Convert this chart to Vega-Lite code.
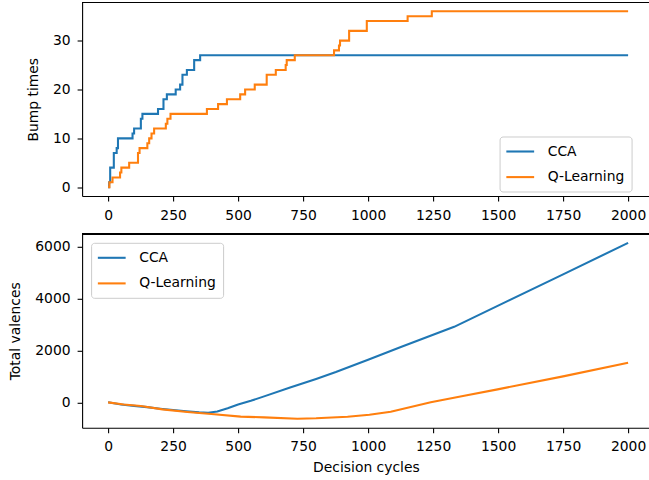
{
  "$schema": "https://vega.github.io/schema/vega-lite/v6.json",
  "background": "white",
  "padding": {"left": 8.1, "top": 1.5, "right": 0, "bottom": 0},
  "spacing": 37.3,
  "bounds": "flush",
  "datasets": {
    "bumps": [
      {"cycle": 0, "value": 0, "agent": "CCA"},
      {"cycle": 4, "value": 1, "agent": "CCA"},
      {"cycle": 8, "value": 4, "agent": "CCA"},
      {"cycle": 22, "value": 7, "agent": "CCA"},
      {"cycle": 33, "value": 8, "agent": "CCA"},
      {"cycle": 38, "value": 10, "agent": "CCA"},
      {"cycle": 94, "value": 11, "agent": "CCA"},
      {"cycle": 100, "value": 12, "agent": "CCA"},
      {"cycle": 126, "value": 14, "agent": "CCA"},
      {"cycle": 132, "value": 15, "agent": "CCA"},
      {"cycle": 192, "value": 16, "agent": "CCA"},
      {"cycle": 213, "value": 18, "agent": "CCA"},
      {"cycle": 226, "value": 19, "agent": "CCA"},
      {"cycle": 260, "value": 20, "agent": "CCA"},
      {"cycle": 277, "value": 21, "agent": "CCA"},
      {"cycle": 286, "value": 23, "agent": "CCA"},
      {"cycle": 303, "value": 24, "agent": "CCA"},
      {"cycle": 331, "value": 26, "agent": "CCA"},
      {"cycle": 354, "value": 27, "agent": "CCA"},
      {"cycle": 2000, "value": 27, "agent": "CCA"},
      {"cycle": 0, "value": 0, "agent": "Q-Learning"},
      {"cycle": 5, "value": 1, "agent": "Q-Learning"},
      {"cycle": 17, "value": 2, "agent": "Q-Learning"},
      {"cycle": 46, "value": 3, "agent": "Q-Learning"},
      {"cycle": 51, "value": 4, "agent": "Q-Learning"},
      {"cycle": 81, "value": 5, "agent": "Q-Learning"},
      {"cycle": 115, "value": 7, "agent": "Q-Learning"},
      {"cycle": 121, "value": 8, "agent": "Q-Learning"},
      {"cycle": 151, "value": 9, "agent": "Q-Learning"},
      {"cycle": 158, "value": 10, "agent": "Q-Learning"},
      {"cycle": 167, "value": 11, "agent": "Q-Learning"},
      {"cycle": 177, "value": 12, "agent": "Q-Learning"},
      {"cycle": 222, "value": 13, "agent": "Q-Learning"},
      {"cycle": 228, "value": 14, "agent": "Q-Learning"},
      {"cycle": 240, "value": 15, "agent": "Q-Learning"},
      {"cycle": 380, "value": 16, "agent": "Q-Learning"},
      {"cycle": 423, "value": 17, "agent": "Q-Learning"},
      {"cycle": 457, "value": 18, "agent": "Q-Learning"},
      {"cycle": 508, "value": 19, "agent": "Q-Learning"},
      {"cycle": 527, "value": 20, "agent": "Q-Learning"},
      {"cycle": 564, "value": 21, "agent": "Q-Learning"},
      {"cycle": 610, "value": 23, "agent": "Q-Learning"},
      {"cycle": 645, "value": 24, "agent": "Q-Learning"},
      {"cycle": 683, "value": 25, "agent": "Q-Learning"},
      {"cycle": 687, "value": 26, "agent": "Q-Learning"},
      {"cycle": 718, "value": 27, "agent": "Q-Learning"},
      {"cycle": 869, "value": 28, "agent": "Q-Learning"},
      {"cycle": 888, "value": 29, "agent": "Q-Learning"},
      {"cycle": 892, "value": 30, "agent": "Q-Learning"},
      {"cycle": 927, "value": 32, "agent": "Q-Learning"},
      {"cycle": 995, "value": 34, "agent": "Q-Learning"},
      {"cycle": 1152, "value": 35, "agent": "Q-Learning"},
      {"cycle": 1245, "value": 36, "agent": "Q-Learning"},
      {"cycle": 2000, "value": 36, "agent": "Q-Learning"}
    ],
    "valences": [
      {"cycle": 0, "value": 0, "agent": "CCA"},
      {"cycle": 50, "value": -80, "agent": "CCA"},
      {"cycle": 100, "value": -135, "agent": "CCA"},
      {"cycle": 150, "value": -185, "agent": "CCA"},
      {"cycle": 200, "value": -245, "agent": "CCA"},
      {"cycle": 250, "value": -295, "agent": "CCA"},
      {"cycle": 300, "value": -345, "agent": "CCA"},
      {"cycle": 350, "value": -385, "agent": "CCA"},
      {"cycle": 385, "value": -400, "agent": "CCA"},
      {"cycle": 420, "value": -350, "agent": "CCA"},
      {"cycle": 460, "value": -230, "agent": "CCA"},
      {"cycle": 500, "value": -80, "agent": "CCA"},
      {"cycle": 549, "value": 60, "agent": "CCA"},
      {"cycle": 600, "value": 230, "agent": "CCA"},
      {"cycle": 700, "value": 570, "agent": "CCA"},
      {"cycle": 800, "value": 900, "agent": "CCA"},
      {"cycle": 876, "value": 1165, "agent": "CCA"},
      {"cycle": 1000, "value": 1640, "agent": "CCA"},
      {"cycle": 1126, "value": 2130, "agent": "CCA"},
      {"cycle": 1331, "value": 2908, "agent": "CCA"},
      {"cycle": 1536, "value": 3900, "agent": "CCA"},
      {"cycle": 1750, "value": 4930, "agent": "CCA"},
      {"cycle": 2000, "value": 6140, "agent": "CCA"},
      {"cycle": 0, "value": 0, "agent": "Q-Learning"},
      {"cycle": 60, "value": -80, "agent": "Q-Learning"},
      {"cycle": 126, "value": -140, "agent": "Q-Learning"},
      {"cycle": 209, "value": -270, "agent": "Q-Learning"},
      {"cycle": 305, "value": -370, "agent": "Q-Learning"},
      {"cycle": 408, "value": -460, "agent": "Q-Learning"},
      {"cycle": 510, "value": -550, "agent": "Q-Learning"},
      {"cycle": 600, "value": -580, "agent": "Q-Learning"},
      {"cycle": 728, "value": -630, "agent": "Q-Learning"},
      {"cycle": 800, "value": -615, "agent": "Q-Learning"},
      {"cycle": 921, "value": -553, "agent": "Q-Learning"},
      {"cycle": 1005, "value": -480, "agent": "Q-Learning"},
      {"cycle": 1087, "value": -361, "agent": "Q-Learning"},
      {"cycle": 1241, "value": 0, "agent": "Q-Learning"},
      {"cycle": 1370, "value": 250, "agent": "Q-Learning"},
      {"cycle": 1498, "value": 500, "agent": "Q-Learning"},
      {"cycle": 1750, "value": 1000, "agent": "Q-Learning"},
      {"cycle": 2000, "value": 1523, "agent": "Q-Learning"}
    ]
  },
  "resolve": {"legend": {"color": "independent"}, "scale": {"color": "independent"}},
  "vconcat": [
    {
      "width": 567.6,
      "height": 193.5,
      "data": {"name": "bumps"},
      "layer": [
        {
          "mark": {"type": "line", "interpolate": "step-after", "strokeWidth": 2.08},
          "encoding": {
            "x": {"field": "cycle", "type": "quantitative", "scale": {"domain": [-100, 2083], "nice": false, "zero": false},
                  "axis": {"values": [0, 250, 500, 750, 1000, 1250, 1500, 1750, 2000], "format": "d", "title": null}},
            "y": {"field": "value", "type": "quantitative", "scale": {"domain": [-1.8, 37.8], "nice": false, "zero": false},
                  "axis": {"values": [0, 10, 20, 30], "format": "d", "title": "Bump times"}},
            "color": {"field": "agent", "type": "nominal",
                      "scale": {"domain": ["CCA", "Q-Learning"], "range": ["#1f77b4", "#ff7f0e"]},
                      "legend": {"title": null, "orient": "none", "legendX": 417.5, "legendY": 134}}
          }
        },
        {
          "mark": {"type": "rule", "color": "black", "strokeWidth": 1.1},
          "encoding": {"y": {"datum": 37.8}}
        }
      ]
    },
    {
      "width": 567.6,
      "height": 194,
      "data": {"name": "valences"},
      "layer": [
        {
          "mark": {"type": "line", "strokeWidth": 2.08},
          "encoding": {
            "x": {"field": "cycle", "type": "quantitative", "scale": {"domain": [-100, 2083], "nice": false, "zero": false},
                  "axis": {"values": [0, 250, 500, 750, 1000, 1250, 1500, 1750, 2000], "format": "d", "title": "Decision cycles", "titlePadding": 7}},
            "y": {"field": "value", "type": "quantitative", "scale": {"domain": [-980, 6490], "nice": false, "zero": false},
                  "axis": {"values": [0, 2000, 4000, 6000], "format": "d", "title": "Total valences"}},
            "color": {"field": "agent", "type": "nominal",
                      "scale": {"domain": ["CCA", "Q-Learning"], "range": ["#1f77b4", "#ff7f0e"]},
                      "legend": {"title": null, "orient": "top-left", "offset": 8.5}}
          }
        },
        {
          "mark": {"type": "rule", "color": "black", "strokeWidth": 1.1},
          "encoding": {"y": {"datum": 6490}}
        }
      ]
    }
  ],
  "config": {
    "view": {"stroke": null},
    "font": "DejaVu Sans",
    "axis": {
      "grid": false,
      "domainColor": "black",
      "domainWidth": 1.1,
      "tickColor": "black",
      "tickWidth": 1.1,
      "tickSize": 5,
      "labelColor": "black",
      "labelFont": "DejaVu Sans",
      "labelFontSize": 13.9,
      "labelPadding": 7,
      "labelFlush": false,
      "labelOverlap": false,
      "titleColor": "black",
      "titleFont": "DejaVu Sans",
      "titleFontSize": 13.9,
      "titleFontWeight": "normal",
      "titlePadding": 12
    },
    "legend": {
      "labelFont": "DejaVu Sans",
      "labelFontSize": 13.9,
      "labelColor": "black",
      "symbolType": "M-2,0H2",
      "symbolStrokeWidth": 2.08,
      "symbolSize": 193.2,
      "symbolOffset": 5.65,
      "strokeColor": "#cccccc",
      "fillColor": "rgba(255,255,255,0.8)",
      "cornerRadius": 3,
      "padding": 7,
      "rowPadding": 10.6,
      "labelOffset": 19.5
    }
  }
}
